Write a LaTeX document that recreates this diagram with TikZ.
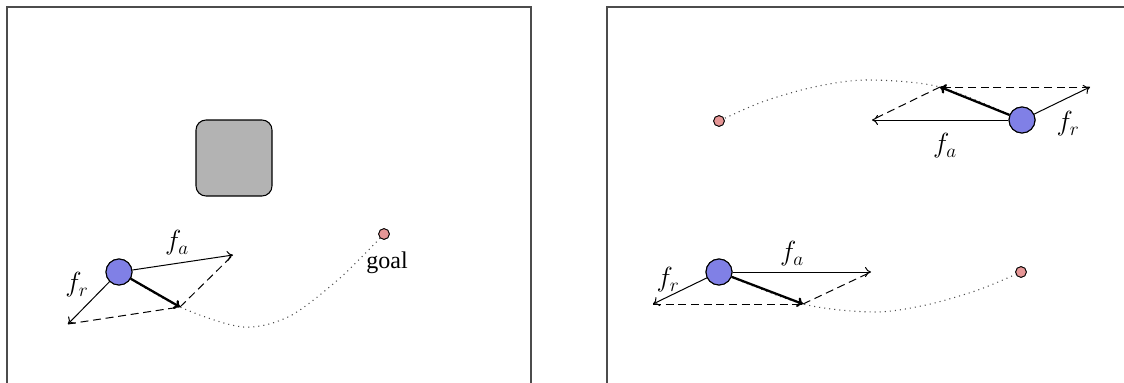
\documentclass[tikz,border=0pt]{standalone}
\usepackage{fontspec}
\setmainfont{Liberation Serif}
\usetikzlibrary{arrows.meta}
\definecolor{robotc}{RGB}{128,128,230}
\definecolor{goalc}{RGB}{230,150,150}
\definecolor{obsc}{RGB}{179,179,179}
\begin{document}
\begin{tikzpicture}[x=0.75pt,y=-0.75pt,
  frame/.style={draw=black!70,line width=1pt},
  robot/.style={circle,draw=black,line width=0.8pt,fill=robotc,minimum size=19.5pt,inner sep=0pt},
  goalpt/.style={circle,draw=black,line width=0.6pt,fill=goalc,minimum size=8pt,inner sep=0pt},
  obstacle/.style={draw=black,line width=0.8pt,fill=obsc,rounded corners=7.5pt,minimum size=57pt,inner sep=0pt},
  force/.style={-{To[length=4.5pt,width=7.5pt]},line width=0.75pt},
  result/.style={-{To[length=4.5pt,width=7.5pt]},line width=1.7pt},
  guide/.style={line width=0.75pt,dash pattern=on 6pt off 3.5pt},
  traj/.style={line width=0.8pt,black!70,dash pattern=on 0.8pt off 3pt},
  lbl/.style={font=\fontsize{18}{21}\selectfont,inner sep=0pt},
  mlbl/.style={font=\fontsize{20.74}{24}\selectfont,inner sep=0pt}]
\useasboundingbox (0,0) rectangle (1124,382);
\clip (0,0) rectangle (1124,382);
\draw[frame] (7,7) rectangle (531,400);
\draw[frame] (607,7) rectangle (1140,400);

% left panel
\node[obstacle] (obs) at (234,158) {};
\coordinate (fa1) at (233,255);
\coordinate (fr1) at (68,324);
\coordinate (res1) at (180,307);
\coordinate (t1a) at (243,327);
\coordinate (t1b) at (290,316);
\coordinate (t1c) at (340,278);
\node[robot] (r1) at (119,272) {};
\node[goalpt] (g1) at (384,234) {};
\draw[traj] plot[smooth] coordinates {(r1.center) (res1) (t1a) (t1b) (t1c) (g1.center)};
\node[robot] at (r1) {};
\node[goalpt] at (g1) {};
\draw[force] (r1) -- (fa1);
\draw[force] (r1) -- (fr1);
\draw[guide] (fr1) -- (res1);
\draw[guide] (res1) -- (fa1);
\draw[result] (r1) -- (res1);
\node[mlbl] (la1) at (177,243) {$f_a$};
\node[mlbl] (lr1) at (77,285) {$f_r$};
\node[lbl] (lgoal) at (387,263) {goal};

% right panel, bottom
\coordinate (fa2) at (871,272);
\coordinate (fr2) at (653,304);
\coordinate (res2) at (803,304);
\coordinate (t2a) at (874,312);
\coordinate (t2b) at (926,305);
\coordinate (t2c) at (978,290);
\node[robot] (r2) at (719,272) {};
\node[goalpt] (g2) at (1021,272) {};
\draw[traj] plot[smooth] coordinates {(r2.center) (res2) (t2a) (t2b) (t2c) (g2.center)};
\node[robot] at (r2) {};
\node[goalpt] at (g2) {};
\draw[force] (r2) -- (fa2);
\draw[force] (r2) -- (fr2);
\draw[guide] (fr2) -- (res2);
\draw[guide] (res2) -- (fa2);
\draw[result] (r2) -- (res2);
\node[mlbl] (la2) at (792,254) {$f_a$};
\node[mlbl] (lr2) at (668,280) {$f_r$};

% right panel, top
\coordinate (fa3) at (872,120);
\coordinate (fr3) at (1090,87);
\coordinate (res3) at (940,87);
\coordinate (t3a) at (867,80);
\coordinate (t3b) at (814,87);
\coordinate (t3c) at (762,102);
\node[robot] (r3) at (1022,120) {};
\node[goalpt] (g3) at (719,121) {};
\draw[traj] plot[smooth] coordinates {(r3.center) (res3) (t3a) (t3b) (t3c) (g3.center)};
\node[robot] at (r3) {};
\node[goalpt] at (g3) {};
\draw[force] (r3) -- (fa3);
\draw[force] (r3) -- (fr3);
\draw[guide] (fr3) -- (res3);
\draw[guide] (res3) -- (fa3);
\draw[result] (r3) -- (res3);
\node[mlbl] (la3) at (945,146) {$f_a$};
\node[mlbl] (lr3) at (1068,124) {$f_r$};
\end{tikzpicture}
\end{document}
